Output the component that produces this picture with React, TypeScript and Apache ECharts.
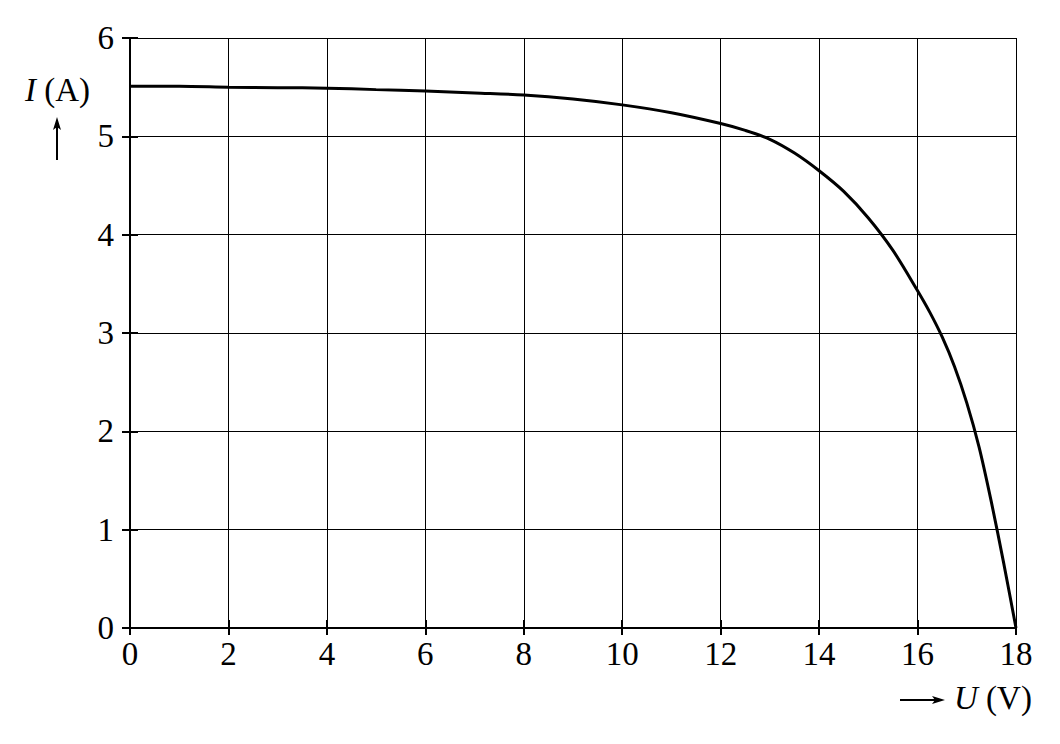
import React, { useEffect, useRef } from 'react'
import * as echarts from 'echarts'

const voltage = [0, 1, 2, 3, 4, 5, 6, 7, 8, 9, 10, 11, 12, 12.5, 13, 13.5, 14, 14.5, 15, 15.5, 16, 16.25, 16.5, 16.75, 17, 17.25, 17.5, 17.75, 18]
const current = [5.51, 5.51, 5.5, 5.495, 5.49, 5.475, 5.46, 5.44, 5.42, 5.38, 5.32, 5.24, 5.13, 5.06, 4.97, 4.83, 4.65, 4.44, 4.17, 3.84, 3.43, 3.21, 2.96, 2.66, 2.29, 1.84, 1.28, 0.66, 0]

const xTicks = { min: 0, max: 18, step: 2 }
const yTicks = { min: 0, max: 6, step: 1 }

const serif = 'Liberation Serif'

export default function App() {
  const ref = useRef<HTMLDivElement | null>(null)

  useEffect(() => {
    if (!ref.current) return
    const chart = echarts.init(ref.current, null, { renderer: 'svg' })
    const black = '#000'
    const tickStyle = { color: black, width: 2 }

    chart.setOption({
      animation: false,
      grid: { left: 130, right: 44, top: 38, bottom: 116, containLabel: false },
      xAxis: [
        {
          type: 'value', min: xTicks.min, max: xTicks.max, interval: xTicks.step, position: 'bottom',
          axisLine: { lineStyle: { color: black, width: 2 } },
          axisTick: { length: 7, lineStyle: tickStyle },
          axisLabel: { fontFamily: serif, fontSize: 33, color: black, margin: 9 },
          splitLine: { lineStyle: { color: black, width: 1 } },
        },
        {
          type: 'value', min: xTicks.min, max: xTicks.max, interval: xTicks.step, position: 'bottom',
          axisLine: { show: false },
          axisTick: { inside: true, length: 8, lineStyle: tickStyle },
          axisLabel: { show: false },
          splitLine: { show: false },
        },
      ],
      yAxis: [
        {
          type: 'value', min: yTicks.min, max: yTicks.max, interval: yTicks.step, position: 'left',
          axisLine: { show: true, lineStyle: { color: black, width: 2 } },
          axisTick: { show: true, length: 8, lineStyle: tickStyle },
          axisLabel: { fontFamily: serif, fontSize: 33, color: black, margin: 16 },
          splitLine: { lineStyle: { color: black, width: 1 } },
        },
        {
          type: 'value', min: yTicks.min, max: yTicks.max, interval: yTicks.step, position: 'left',
          axisLine: { show: false },
          axisTick: { show: true, inside: true, length: 8, lineStyle: tickStyle },
          axisLabel: { show: false },
          splitLine: { show: false },
        },
      ],
      series: [
        {
          type: 'line',
          data: voltage.map((u, i) => [u, current[i]]),
          smooth: 0.3,
          showSymbol: false,
          lineStyle: { color: black, width: 3 },
        },
      ],
      graphic: [
        {
          type: 'text', left: 25, top: 73,
          style: {
            text: '{i|I}{r| (A)}',
            fill: black,
            rich: {
              i: { fontStyle: 'italic', fontFamily: serif, fontSize: 33, fill: black },
              r: { fontFamily: serif, fontSize: 33, fill: black },
            },
          },
        },
        { type: 'line', shape: { x1: 57, y1: 160, x2: 57, y2: 126 }, style: { stroke: black, lineWidth: 2 } },
        { type: 'polygon', shape: { points: [[57, 117], [53, 130], [57, 127], [61, 130]] }, style: { fill: black } },
        { type: 'line', shape: { x1: 900, y1: 700, x2: 936, y2: 700 }, style: { stroke: black, lineWidth: 2 } },
        { type: 'polygon', shape: { points: [[945, 700], [932, 696], [935, 700], [932, 704]] }, style: { fill: black } },
        {
          type: 'text', left: 954, top: 681,
          style: {
            text: '{i|U}{r| (V)}',
            fill: black,
            rich: {
              i: { fontStyle: 'italic', fontFamily: serif, fontSize: 33, fill: black },
              r: { fontFamily: serif, fontSize: 33, fill: black },
            },
          },
        },
      ],
    } as any)

    return () => chart.dispose()
  }, [])

  return <div ref={ref} style={{ position: 'absolute', left: 0, top: 0, width: 1060, height: 744, background: '#fff' }} />
}
